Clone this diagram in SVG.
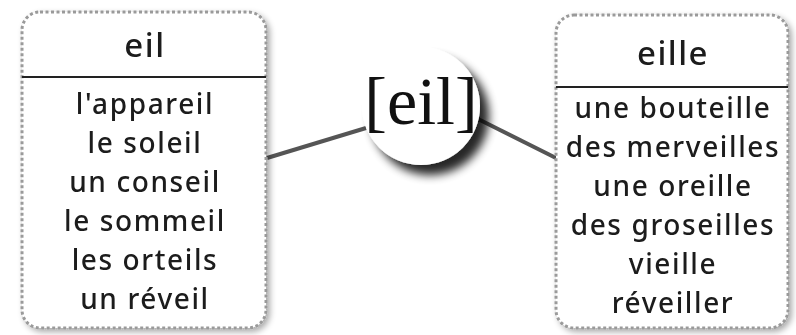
<svg xmlns="http://www.w3.org/2000/svg" width="796" height="335" viewBox="0 0 796 335">
<defs>
<filter id="sh" x="-20%" y="-20%" width="150%" height="150%">
<feGaussianBlur in="SourceAlpha" stdDeviation="3"/>
<feOffset dx="3" dy="3" result="b"/>
<feComponentTransfer><feFuncA type="linear" slope="0.35"/></feComponentTransfer>
<feMerge><feMergeNode/><feMergeNode in="SourceGraphic"/></feMerge>
</filter>
<filter id="csh" x="-40%" y="-40%" width="190%" height="190%">
<feGaussianBlur in="SourceAlpha" stdDeviation="5"/>
<feOffset dx="9" dy="10" result="b"/>
<feComponentTransfer><feFuncA type="linear" slope="0.85"/></feComponentTransfer>
<feMerge><feMergeNode/><feMergeNode in="SourceGraphic"/></feMerge>
</filter>
</defs>
<style>
.box{fill:#fff;stroke:#9a9a9a;stroke-width:3;stroke-dasharray:3 2.5}
.div{stroke:#222;stroke-width:1.8}
.t{font-family:"Noto Sans","DejaVu Sans",sans-serif;font-weight:500;fill:#1a1a1a;text-anchor:middle}
.h{font-size:33px;letter-spacing:1.5px}
.i{font-size:28px;letter-spacing:1.6px}
.conn{stroke:#555;stroke-width:4;fill:none}
</style>
<rect width="796" height="335" fill="#fff"/>
<g id="connectors">
<line class="conn" x1="267" y1="158" x2="366" y2="128"/>
<line class="conn" x1="476" y1="118" x2="556" y2="158"/>
</g>
<g id="left" filter="url(#sh)">
<rect class="box" x="22" y="12" width="244" height="316" rx="18"/>
<line class="div" x1="22" y1="77" x2="266" y2="77"/>
<text class="t h" x="145" y="57">eil</text>
<text class="t i" x="145" y="114">l'appareil</text>
<text class="t i" x="145" y="153">le soleil</text>
<text class="t i" x="145" y="192">un conseil</text>
<text class="t i" x="145" y="231">le sommeil</text>
<text class="t i" x="145" y="270">les orteils</text>
<text class="t i" x="145" y="309">un réveil</text>
</g>
<g id="right" filter="url(#sh)">
<rect class="box" x="556" y="15" width="232" height="313" rx="18"/>
<line class="div" x1="556" y1="87" x2="788" y2="87"/>
<text class="t h" x="673" y="65">eille</text>
<text class="t i" x="673" y="118">une bouteille</text>
<text class="t i" x="673" y="157">des merveilles</text>
<text class="t i" x="673" y="196">une oreille</text>
<text class="t i" x="673" y="235">des groseilles</text>
<text class="t i" x="673" y="274">vieille</text>
<text class="t i" x="673" y="313">réveiller</text>
</g>
<g id="center">
<circle cx="421" cy="106" r="59" fill="#fff" filter="url(#csh)"/>
<text x="421" y="124" font-family="Liberation Serif,serif" font-size="68" fill="#111" text-anchor="middle">[eil]</text>
</g>
</svg>
